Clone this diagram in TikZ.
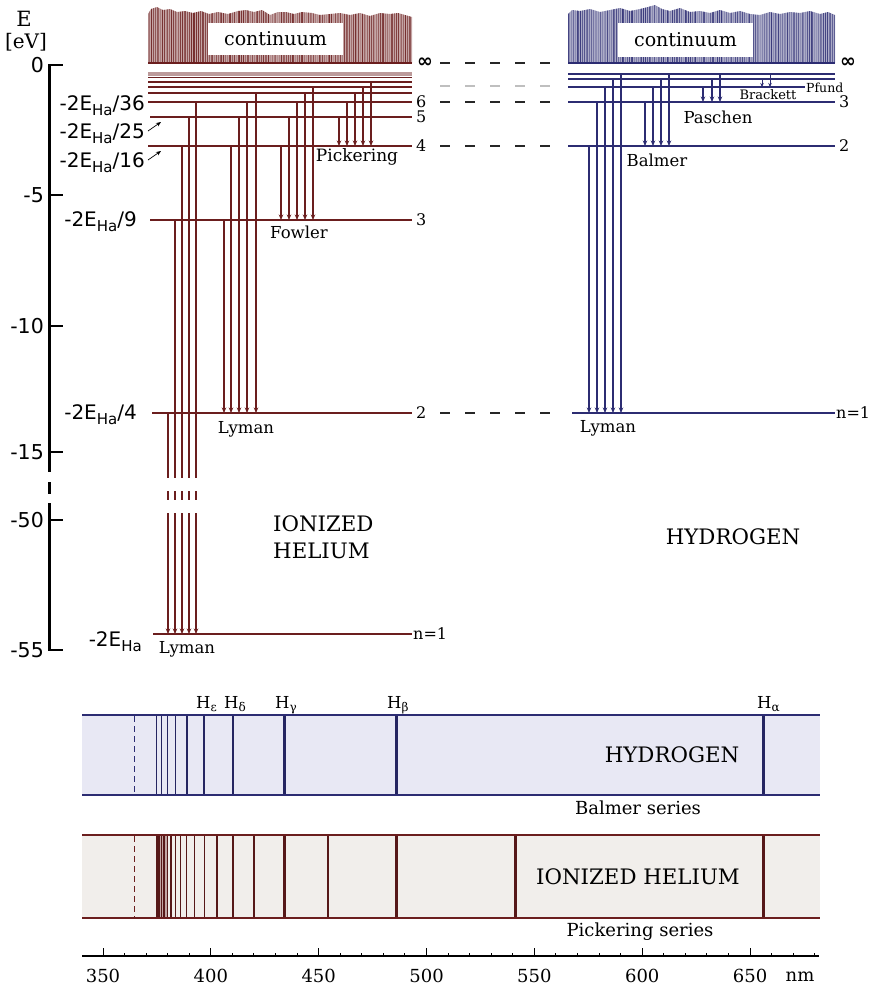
\documentclass[tikz,border=0pt]{standalone}
\usepackage{fontspec}
\setmainfont{DejaVu Serif}
\setsansfont{DejaVu Sans}
\usetikzlibrary{arrows.meta}
\definecolor{he}{HTML}{6B1E1E}
\definecolor{hy}{HTML}{2C2C72}
\definecolor{hefill}{HTML}{F1EEEB}
\definecolor{hyfill}{HTML}{E8E8F4}
\newcommand\EHa{E\raisebox{-5.5pt}{\fontsize{15}{15}\selectfont Ha}}
\newcommand\Hsub[1]{H\raisebox{-3.5pt}{\fontsize{12}{12}\selectfont #1}}
\tikzset{
  lvline/.style={line width=2pt},
  sublv/.style={line width=1.3pt},
  trarrow/.style={line width=1.1pt,-{Stealth[length=5.5pt,width=4.5pt]}},
  conn/.style={line width=2.4pt,dash pattern=on 10pt off 15pt},
  axnum/.style={font=\sffamily\fontsize{20.5}{20.5}\selectfont,anchor=east,inner sep=0pt},
  elab/.style={font=\sffamily\fontsize{20}{20}\selectfont,anchor=base east,inner sep=0pt},
  serlab/.style={font=\fontsize{16.5}{16.5}\selectfont,inner sep=0pt},
  numlab/.style={font=\fontsize{16}{16}\selectfont,inner sep=0pt,anchor=west},
  bigl/.style={font=\fontsize{21.3}{21.3}\selectfont,inner sep=0pt},
  contbox/.style={fill=white,inner sep=0pt,font=\fontsize{19}{19}\selectfont},
  inflab/.style={font=\sffamily\bfseries\fontsize{19}{19}\selectfont,inner sep=0pt,anchor=west},
  wl/.style={font=\fontsize{18}{18}\selectfont,inner sep=0pt},
  serieslab/.style={font=\fontsize{18}{18}\selectfont,inner sep=0pt},
  hlab/.style={font=\fontsize{16.5}{16.5}\selectfont,inner sep=0pt,anchor=base west},
  smallarr/.style={line width=0.7pt,-{Stealth[length=5pt,width=4pt]}},
}
\begin{document}
\begin{tikzpicture}[x=1pt,y=-1pt]
\path[use as bounding box] (0,0) rectangle (877,989);

% ================= Energy axis =================
\draw[line width=3pt] (49,64) -- (49,472);
\draw[line width=3pt] (49,482) -- (49,494);
\draw[line width=3pt] (49,503) -- (49,651);
\foreach \y/\t/\nm in {65/0/a,195/-5/b,326/-10/c,452/-15/d,520/-50/e,650/-55/f}{
  \draw[line width=2.5pt] (48,\y) -- (63,\y);
  \node[axnum] (tick\nm) at (44,\y) {\t};
}
\node[font=\fontsize{21}{21}\selectfont,inner sep=0pt] (Elab) at (24,19) {E};
\node[font=\fontsize{20}{20}\selectfont,inner sep=0pt] (eVlab) at (26,42) {[eV]};

% level labels
\node[elab] (l36) at (145,110) {-2\EHa/36};
\node[elab] (l25) at (145,138) {-2\EHa/25};
\node[elab] (l16) at (145,167) {-2\EHa/16};
\node[elab] (l9) at (137,226) {-2\EHa/9};
\node[elab] (l4) at (137,419) {-2\EHa/4};
\node[elab] (l1) at (142,646) {-2\EHa};
\coordinate (p25a) at (148,131); \coordinate (p25b) at (161,122);
\coordinate (p16a) at (148,160); \coordinate (p16b) at (161,151);
\draw[smallarr] (p25a) -- (p25b);
\draw[smallarr] (p16a) -- (p16b);

% ================= Helium continuum =================
\def\hecont{(148,63) -- (148,14) -- (151,9) -- (157,7) -- (163,10) -- (170,9) -- (177,12) -- (185,11) -- (193,13) -- (201,11) -- (209,14) -- (218,12) -- (228,14) -- (238,11) -- (246,10) -- (254,12) -- (262,10) -- (270,15) -- (278,12) -- (286,12) -- (294,14) -- (302,12) -- (312,13) -- (320,15) -- (330,14) -- (340,13) -- (350,15) -- (360,13) -- (370,16) -- (380,13) -- (390,14) -- (398,13) -- (405,15) -- (412,17) -- (412,63) -- cycle}
\fill[he!40!white] \hecont;
\begin{scope}
\clip \hecont;
\pgfmathsetseed{3}
\foreach \i in {0,...,146}{
  \pgfmathsetmacro\op{0.15+0.75*rnd}
  \draw[he,line width=0.9pt,opacity=\op] (148+1.8*\i,0) -- (148+1.8*\i,63);
}
\end{scope}
\node[contbox,minimum width=135pt,minimum height=32pt] (hecont) at (275.5,39) {continuum};
\draw[he,line width=2.6pt] (148,63) -- (412,63);
\node[inflab] (heinf) at (417,63) {∞};

% sub-levels
\fill[he!45!white] (148,71.5) rectangle (412,75.5);
\foreach \y in {77.5,82,87,93}{ \draw[he,sublv] (148,\y) -- (412,\y); }
\draw[he,lvline] (148,102) -- (412,102);
\draw[he,lvline] (150,117) -- (412,117);
\draw[he,lvline] (148,146) -- (412,146);
\draw[he,lvline] (150,220) -- (412,220);
\draw[he,lvline] (152,413) -- (412,413);
\draw[he,lvline] (153,634) -- (412,634);
\node[numlab] (he6) at (416,102) {6};
\node[numlab] (he5) at (416,117) {5};
\node[numlab] (he4) at (416,146) {4};
\node[numlab] (he3) at (416,220) {3};
\node[numlab] (he2) at (416,413) {2};
\node[numlab] (he1) at (413,634) {n=1};

% He transitions
\foreach \x/\ya in {339/117,347/102,355/93,363/87,371/83}{ \draw[he,trarrow] (\x,\ya) -- (\x,146); }
\foreach \x/\ya in {281/146,289/117,297/102,305/93,313/87}{ \draw[he,trarrow] (\x,\ya) -- (\x,220); }
\foreach \x/\ya in {224/220,231/146,239/117,247/102,256/93}{ \draw[he,trarrow] (\x,\ya) -- (\x,413); }
\foreach \x/\ya in {168/413,175/220,182/146,189/117,196/102}{
  \draw[he,line width=1.1pt] (\x,\ya) -- (\x,478);
  \draw[he,line width=1.1pt] (\x,491) -- (\x,500);
  \draw[he,trarrow] (\x,513) -- (\x,634);
}
\node[font=\fontsize{17}{17}\selectfont,inner sep=0pt] (pick) at (357,157) {Pickering};
\node[serlab] (fowl) at (299,232) {Fowler};
\node[serlab] (lyhe2) at (246,429) {Lyman};
\node[serlab] (lyhe1) at (187,649) {Lyman};
\node[bigl,anchor=west] (ion1) at (273,524) {IONIZED};
\node[bigl,anchor=west] (ion2) at (273,551) {HELIUM};

% ================= Hydrogen continuum =================
\def\hycont{(568,63) -- (568,14) -- (572,10) -- (580,11) -- (590,9) -- (600,12) -- (610,10) -- (620,8) -- (630,11) -- (640,9) -- (648,7) -- (655,5) -- (662,9) -- (670,11) -- (680,8) -- (690,12) -- (700,11) -- (710,13) -- (720,10) -- (730,13) -- (740,11) -- (750,14) -- (760,15) -- (770,12) -- (780,14) -- (790,12) -- (800,13) -- (810,11) -- (820,14) -- (828,12) -- (835,15) -- (835,63) -- cycle}
\fill[hy!40!white] \hycont;
\begin{scope}
\clip \hycont;
\pgfmathsetseed{7}
\foreach \i in {0,...,149}{
  \pgfmathsetmacro\op{0.15+0.75*rnd}
  \draw[hy,line width=0.9pt,opacity=\op] (568+1.8*\i,0) -- (568+1.8*\i,63);
}
\end{scope}
\node[contbox,minimum width=135pt,minimum height=34pt] (hycont) at (685.5,40) {continuum};
\draw[hy,line width=2.6pt] (568,63) -- (835,63);
\node[inflab] (hyinf) at (840,63) {∞};

\draw[hy,sublv] (568,74) -- (835,74);
\draw[hy,sublv] (568,79) -- (835,79);
\draw[hy,sublv] (568,87) -- (805,87);
\draw[hy,lvline] (568,102) -- (835,102);
\draw[hy,lvline] (568,146) -- (835,146);
\draw[hy,lvline] (572,413) -- (835,413);
\node[font=\fontsize{12.5}{12.5}\selectfont,inner sep=0pt,anchor=west] (pfund) at (806,88) {Pfund};
\node[numlab] (hy3) at (839,102) {3};
\node[numlab] (hy2) at (839,146) {2};
\node[numlab] (hy1) at (836,413) {n=1};

\foreach \x/\ya in {589/146,597/102,605/87,613/79,621/74}{ \draw[hy,trarrow] (\x,\ya) -- (\x,413); }
\foreach \x/\ya in {645/102,653/87,661/79,669/74}{ \draw[hy,trarrow] (\x,\ya) -- (\x,146); }
\foreach \x/\ya in {703/87,712/79,720/74}{ \draw[hy,trarrow] (\x,\ya) -- (\x,102); }
\foreach \x/\ya in {762/79,770/74}{ \draw[hy,line width=1pt,-{Stealth[length=4pt,width=3.5pt]}] (\x,\ya) -- (\x,87); }
\node[serlab] (balm) at (657,160) {Balmer};
\node[serlab] (pasc) at (718,117) {Paschen};
\node[font=\fontsize{13}{13}\selectfont,inner sep=0pt] (brack) at (768,95) {Brackett};
\node[serlab] (lyhy) at (608,428) {Lyman};
\node[bigl] (hyd) at (733,537) {HYDROGEN};

% dashed connectors between the two diagrams
\foreach \y/\nm in {63/a,102/c,146/d,413/e}{
  \coordinate (cl\nm) at (440,\y); \coordinate (cr\nm) at (552,\y);
  \draw[conn,black!85] (cl\nm) -- (cr\nm);
}
\coordinate (clb) at (440,86); \coordinate (crb) at (552,86);
\draw[conn,black!25] (clb) -- (crb);

% ================= Hydrogen spectrum =================
\fill[hyfill] (82,715) rectangle (820,795);
\draw[hy,line width=1.5pt] (82,715) -- (820,715);
\draw[hy,line width=1.5pt] (82,795) -- (820,795);
\draw[hy,line width=1.2pt,dash pattern=on 6pt off 4pt] (134.5,716) -- (134.5,794);
\foreach \n/\w in {3/3.2,4/3,5/2.6,6/2.2,7/2,8/1.6,9/1.4,10/1.2,11/1,12/1}{
  \pgfmathsetmacro\lam{364.6/(1-4/(\n*\n))}
  \pgfmathsetmacro\xx{103+(\lam-350)*2.157}
  \draw[hy!85!black,line width=\w pt] (\xx,716) -- (\xx,794);
}
\node[hlab] (hal) at (757,708) {\Hsub{α}};
\node[hlab] (hbl) at (387,708) {\Hsub{β}};
\node[hlab] (hgl) at (275,708) {\Hsub{γ}};
\node[hlab] (hdl) at (224,708) {\Hsub{δ}};
\node[hlab] (hel) at (196,708) {\Hsub{ε}};
\node[bigl] (hydb) at (672,755) {HYDROGEN};
\node[serieslab] (balser) at (638,808) {Balmer series};

% ================= Helium spectrum =================
\fill[hefill] (82,835) rectangle (820,918);
\fill[he!35!hefill] (157,836) rectangle (167,917);
\draw[he,line width=1.5pt] (82,835) -- (820,835);
\draw[he,line width=1.5pt] (82,918) -- (820,918);
\draw[he,line width=1.2pt,dash pattern=on 6pt off 4pt] (134.5,836) -- (134.5,917);
\foreach \n in {6,...,24}{
  \pgfmathsetmacro\lam{364.6/(1-16/(\n*\n))}
  \pgfmathsetmacro\xx{103+(\lam-350)*2.157}
  \pgfmathsetmacro\w{\n<9 ? 3.2 : (\n<11 ? 2.6 : (\n<14 ? 2 : 1.2))}
  \draw[he!80!black,line width=\w pt] (\xx,836) -- (\xx,917);
}
\node[bigl] (heb) at (638,877) {IONIZED HELIUM};
\node[serieslab] (pickser) at (640,932) {Pickering series};

% ================= wavelength axis =================
\draw[line width=1.5pt] (82,956) -- (819,956);
\foreach \l in {350,360,...,680}{
  \pgfmathsetmacro\xx{103+(\l-350)*2.157}
  \pgfmathsetmacro\th{mod(\l,50)==0 ? 8 : 3.5}
  \draw[line width=1pt] (\xx,956) -- (\xx,956-\th);
}
\foreach \l in {350,400,...,650}{
  \node[wl] (ax\l) at ({103+(\l-350)*2.157},976) {\l};
}
\node[wl] (nm) at (800,977) {nm};
\end{tikzpicture}
\end{document}
